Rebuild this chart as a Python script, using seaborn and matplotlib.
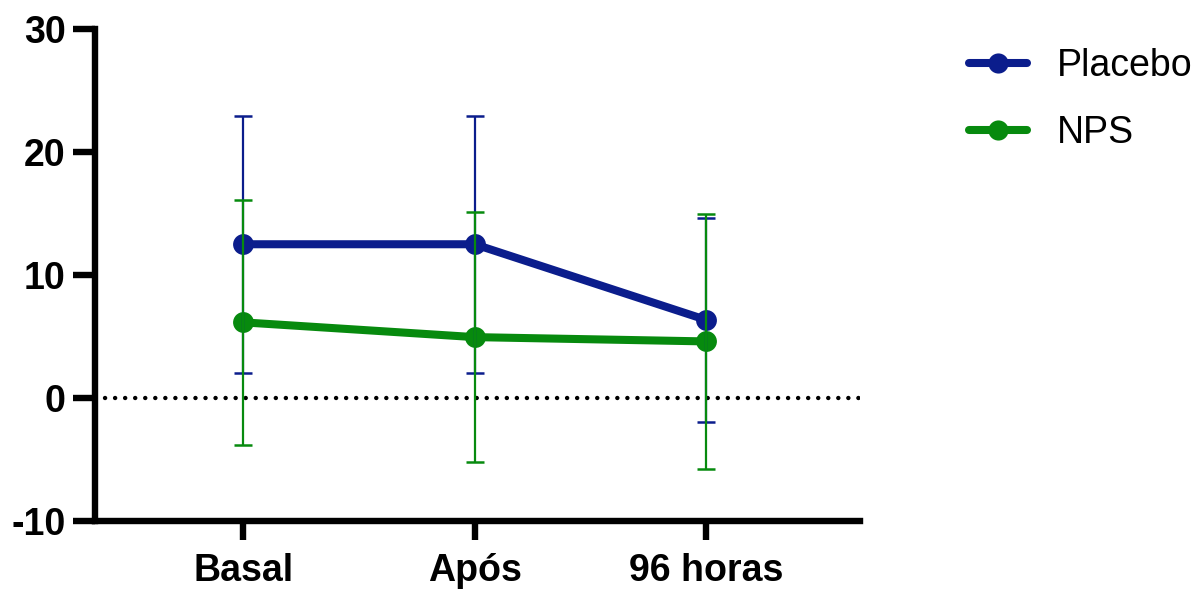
import matplotlib
matplotlib.use("Agg")
import matplotlib.pyplot as plt
import seaborn as sns
import pandas as pd
import numpy as np

categories = ["Basal", "Após", "96 horas"]
placebo_mean = [12.5, 12.5, 6.35]
placebo_sd = [10.45, 10.45, 8.27]
nps_mean = [6.15, 4.95, 4.6]
nps_sd = [9.95, 10.18, 10.35]
groups = ["Placebo", "NPS"]
colors = {"Placebo": "#0B1D8C", "NPS": "#078A0E"}

sns.set_style("white")
plt.rcParams['font.family'] = ['Liberation Sans', 'DejaVu Sans']
plt.rcParams['axes.unicode_minus'] = False
plt.rcParams['text.color'] = 'black'
plt.rcParams['xtick.color'] = 'black'
plt.rcParams['ytick.color'] = 'black'

df = pd.DataFrame({
    "pos": list(range(len(categories))) * 2,
    "tempo": categories * 2,
    "grupo": ["Placebo"] * 3 + ["NPS"] * 3,
    "media": placebo_mean + nps_mean,
    "sd": placebo_sd + nps_sd,
})

W, H = 1200, 591
fig = plt.figure(figsize=(12, 5.91), dpi=100)
x0, x1, y0, y1 = 95, 860, 521, 29
ax = fig.add_axes([x0 / W, 1 - y0 / H, (x1 - x0) / W, (y0 - y1) / H])

ax.axhline(0, color="black", linestyle=(0, (0.01, 2.25)), linewidth=3.2,
           dash_capstyle="round", zorder=1)

sns.lineplot(data=df, x="pos", y="media", hue="grupo", hue_order=groups, palette=colors,
             marker="o", markersize=15, markeredgewidth=0, linewidth=5.8, ax=ax, zorder=2,
             legend=True)

for g in groups:
    sub = df[df["grupo"] == g]
    ax.errorbar(sub["pos"], sub["media"], yerr=sub["sd"], fmt="none", ecolor=colors[g],
                elinewidth=1.6, capsize=6.5, capthick=1.8, zorder=3)

ax.set_xlim(-0.64, 2.665)
ax.set_ylim(-10, 30)
ax.set_yticks([-10, 0, 10, 20, 30])
ax.set_xticks(range(len(categories)))
ax.set_xticklabels(categories)
ax.set_xlabel("")
ax.set_ylabel("")

for s in ["top", "right"]:
    ax.spines[s].set_visible(False)
for s in ["left", "bottom"]:
    ax.spines[s].set_linewidth(4.6)
    ax.spines[s].set_color("black")
    ax.spines[s].set_capstyle("projecting")
ax.tick_params(axis="y", which="major", direction="out", length=16, width=4.6, labelsize=27, pad=5, left=True)
ax.tick_params(axis="x", which="major", direction="out", length=14, width=4.6, labelsize=27, pad=9, bottom=True)
for lab in ax.get_xticklabels() + ax.get_yticklabels():
    lab.set_fontweight("bold")

handles, labels = ax.get_legend_handles_labels()
ax.get_legend().remove()
leg = fig.legend(handles, labels, loc="upper left", bbox_to_anchor=(969 / W, 1 - 48 / H),
                 frameon=False, fontsize=27, handlelength=1.55, handletextpad=0.8,
                 labelspacing=0.82, borderpad=0, borderaxespad=0)
for h in leg.legend_handles:
    h.set_linewidth(5.8)
    h.set_markersize(14.5)
    h.set_solid_capstyle("round")

fig.savefig("out.png", dpi=100)
